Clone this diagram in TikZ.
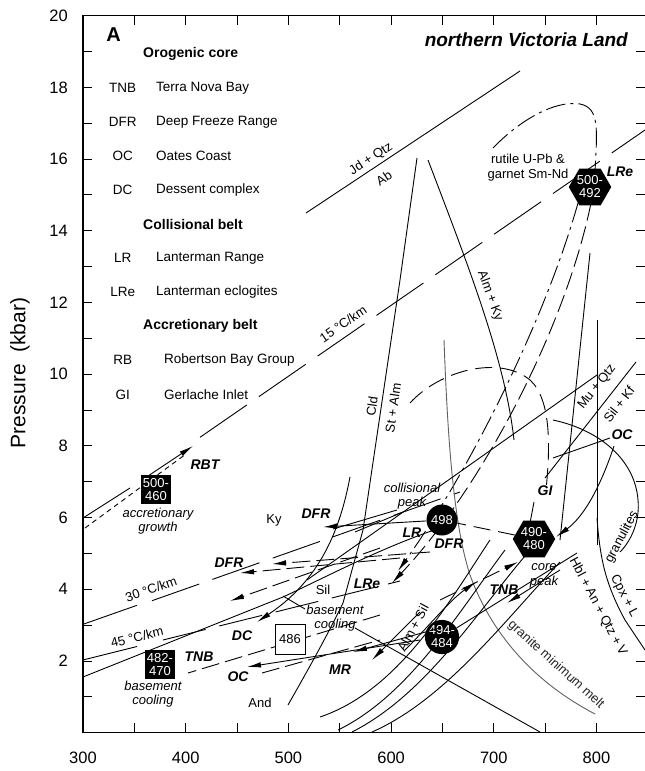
\documentclass[tikz,border=0pt]{standalone}
\usepackage{fontspec}
\setmainfont{Liberation Sans}
\usetikzlibrary{arrows.meta,shapes.geometric}
\begin{document}
\begin{tikzpicture}[x=1pt,y=-1pt,
  ln/.style={line width=0.9pt},
  ldash/.style={ln,dash pattern=on 18pt off 6pt},
  sdash/.style={ln,dash pattern=on 5pt off 4pt},
  adash/.style={ln,dash pattern=on 17pt off 8pt},
  dd/.style={ln,dash pattern=on 20pt off 5pt on 3pt off 5pt},
  geo/.style={ln,dash pattern=on 57pt off 14.5pt},
  arr/.style={-{Latex[length=14pt,width=5.5pt]}},
  lg/.style={font=\fontsize{13.5}{15}\selectfont,inner sep=0pt},
  hd/.style={font=\fontsize{14}{15}\selectfont\bfseries,inner sep=0pt,anchor=west},
  lb/.style={font=\fontsize{13}{15}\selectfont,inner sep=0pt},
  bi/.style={font=\fontsize{14}{15}\selectfont\bfseries\itshape,inner sep=0pt},
  itl/.style={font=\fontsize{13}{14.5}\selectfont\itshape,inner sep=0pt,align=center},
  bx/.style={fill=black,text=white,font=\fontsize{13}{13}\selectfont,inner sep=0pt,align=center,minimum width=30pt,minimum height=29pt},
  hexa/.style={regular polygon,regular polygon sides=6,fill=black,text=white,font=\fontsize{13}{13}\selectfont,inner sep=0pt,align=center},
  disc/.style={circle,fill=black,text=white,font=\fontsize{13}{13}\selectfont,inner sep=0pt,align=center},
]
\useasboundingbox (0,0) rectangle (645,771);
% frame and ticks
\draw[line width=1.1pt] (646,15.7) -- (83,15.7) -- (83,732.7) -- (646,732.7);
\foreach \k in {1,...,19}{
  \draw[line width=1pt] (83,{732.7-35.85*\k}) -- (92,{732.7-35.85*\k});
  \draw[line width=1pt] (636,{732.7-35.85*\k}) -- (645,{732.7-35.85*\k});}
\foreach \j in {1,...,10}{
  \draw[line width=1pt] ({83+51.35*\j},15.7) -- ({83+51.35*\j},25);
  \draw[line width=1pt] ({83+51.35*\j},732.7) -- ({83+51.35*\j},723);}
\foreach \p in {2,4,...,20}
  \node[anchor=east,font=\fontsize{16.5}{17}\selectfont,inner sep=0pt] (yl\p) at (68,{732.7-35.85*\p}) {\p};
\foreach \t in {300,400,...,800}
  \node[font=\fontsize{16.5}{17}\selectfont,inner sep=0pt] (xl\t) at ({83+1.027*(\t-300)},758) {\t};
\node[rotate=90,font=\fontsize{21}{21}\selectfont,inner sep=0pt] (ylab) at (20,373) {Pressure\ \ (kbar)};
% legend
\node[font=\fontsize{20}{20}\selectfont\bfseries,inner sep=0pt] (A) at (113.5,35) {A};
\node[hd] (h1) at (143,54) {Orogenic core};
\node[lg] (a1) at (122.7,88) {TNB}; \node[lg,anchor=west] (b1) at (156,88) {Terra Nova Bay};
\node[lg] (a2) at (122.7,122) {DFR}; \node[lg,anchor=west] (b2) at (156,122) {Deep Freeze Range};
\node[lg] (a3) at (122.7,156) {OC}; \node[lg,anchor=west] (b3) at (156,156) {Oates Coast};
\node[lg] (a4) at (122.7,190) {DC}; \node[lg,anchor=west] (b4) at (156,190) {Dessent complex};
\node[hd] (h2) at (143,224) {Collisional belt};
\node[lg] (a5) at (122.7,258) {LR}; \node[lg,anchor=west] (b5) at (156,258) {Lanterman Range};
\node[lg] (a6) at (122.7,292) {LRe}; \node[lg,anchor=west] (b6) at (156,292) {Lanterman eclogites};
\node[hd] (h3) at (143,326) {Accretionary belt};
\node[lg] (a7) at (122.7,360) {RB}; \node[lg,anchor=west] (b7) at (164,360) {Robertson Bay Group};
\node[lg] (a8) at (122.7,394.5) {GI}; \node[lg,anchor=west] (b8) at (164,394.5) {Gerlache Inlet};
\node[anchor=east,font=\fontsize{19}{19}\selectfont\bfseries\itshape,inner sep=0pt] (title) at (628,40) {northern Victoria Land};
% Jd + Qtz = Ab
\draw[ln] (306,213) -- (520,71);
\node[lb,rotate=33.6] (jd) at (371,159) {Jd + Qtz};
\node[lb,rotate=33.6] (ab) at (384,178) {Ab};
% 15 C/km geotherm and RBT
\draw[ln] (83,518) -- (130,488);
\draw[ln,dash pattern=on 5pt off 4pt] (85,528) -- (186,454);
\node[bx] (b500) at (156,489.5) {500-\\460};
\draw[ln,arr] (148,476) -- (193,446);
\draw[geo] (200,437.3) -- (645,130);
\node[lb,rotate=34.6] (g15) at (343,324) {15 \textdegree C/km};
\node[bi] (rbt) at (205,465) {RBT};
\node[itl] (accr) at (158,521) {accretionary\\growth};
% 30 C/km
\draw[ln] (83,624.3) -- (137,605.3);
\draw[ln,dash pattern=on 50pt off 14pt] (152,600.7) -- (460,492);
\node[lb,rotate=19.5] (g30) at (151,589) {30 \textdegree C/km};
% 45 C/km
\draw[ln] (83,660) -- (137,646.5);
\draw[ln,dash pattern=on 44pt off 14pt] (163,640) -- (400,581);
\node[lb,rotate=14] (g45) at (137,637) {45 \textdegree C/km};
% basement cooling solid line
\draw[ln] (83,677) -- (283,597) .. controls (320,580) and (380,548) .. (440,528);
% Cld = St + Alm
\draw[ln] (417,158) -- (400,280) -- (363,530) -- (352,570) -- (343,603);
\node[lb,rotate=81.7] (cld) at (372,406) {Cld};
\node[lb,rotate=81.7] (stalm) at (393,408) {St + Alm};
% Alm + Ky
\draw[ln] (428,160) .. controls (470,270) and (505,360) .. (514,440);
\node[lb,rotate=-70] (almky) at (490,296) {Alm + Ky};
% rutile loop
\draw[dd] (493,148) .. controls (520,120) and (555,100) .. (580,104) .. controls (600,108) and (597,130) .. (595,172);
\node[lb,align=center] (rut) at (528,168) {rutile U-Pb \&\\garnet Sm-Nd};
\node[hexa,minimum size=35pt] (hLRe) at (590,187) {500-\\492};
\node[bi] (lre1) at (620,172) {LRe};
\draw[dd,arr] (578,203) .. controls (545,320) and (470,470) .. (398,571);
\draw[ldash,arr] (591,203) .. controls (565,330) and (480,490) .. (392,583);
% collisional peak envelope
\draw[adash] (410,403) .. controls (440,370) and (500,355) .. (530,380) .. controls (552,400) and (550,450) .. (546,490);
% granite minimum melt
\draw[ln,gray!75!black] (444,340) .. controls (447,420) and (452,520) .. (470,575) .. controls (490,630) and (530,680) .. (595,714);
\node[lb,rotate=-42,text=black!85] (gmm) at (556,665) {granite minimum melt};
% right side lines
\draw[ln] (597,320) -- (597,545);
\draw[ln] (590,253) -- (560,540);
\draw[ln] (597,375) -- (307,580);
\draw[ln] (636,362) -- (545,478);
\node[lb,rotate=52] (muq) at (597,387) {Mu + Qtz};
\node[lb,rotate=52] (silk) at (619,404) {Sil + Kf};
\draw[ln] (553,420) .. controls (600,430) and (635,460) .. (638,500) .. controls (640,520) and (632,540) .. (620,552);
\node[lb,rotate=62] (gran) at (622,537) {granulites};
\draw[ln] (597,518) .. controls (600,560) and (606,585) .. (625,620) -- (645,650);
\node[lb,rotate=-62] (hbl) at (598,607) {Hbl + An + Qtz + V};
\node[lb,rotate=-62] (cpx) at (624,596) {Cpx + L};
\node[bi] (oc2) at (622,435) {OC};
\draw[ln] (610,438) -- (553,458);
\draw[ln,arr] (614,446) .. controls (602,482) and (586,515) .. (556,537);
% lower curves
\draw[ln] (320,717) .. controls (400,690) and (450,600) .. (490,540);
\draw[ln] (338,730) .. controls (410,695) and (460,610) .. (505,550);
\draw[ln] (352,732) .. controls (425,695) and (475,615) .. (525,556);
\draw[ln] (372,732) .. controls (445,700) and (505,620) .. (560,562);
\draw[ln] (355,628) -- (540,732);
\draw[ln] (288,705) .. controls (305,675) and (325,640) .. (343,603);
\node[lb,rotate=62] (almsil) at (413,628) {Alm + Sil};
% peak symbols
\node[disc,minimum size=31pt] (c498) at (442,520) {498};
\node[hexa,minimum size=36pt] (h490) at (534,539) {490-\\480};
\node[disc,minimum size=30pt] (c494) at (442,637) {494-\\484};
\draw[ln] (c494) -- (577,553);
\draw[ln,arr] (560,570) -- (507,603);
\draw[ln,arr] (405,650) .. controls (430,625) and (450,600) .. (476,582);
\draw[ldash,arr] (440,600) -- (518,562);
\draw[ln] (534,502) -- (530,523);
% DFR paths
\draw[adash] (h490) -- (c498);
\draw[ln,arr] (c498) -- (323,527);
\draw[ldash,arr] (430,552) -- (272,564);
\draw[ldash,arr] (400,558) -- (240,573);
\draw[ldash,arr] (380,548) -- (230,601);
\draw[ln] (397,510) -- (333,529);
\draw[ln] (403,512) -- (355,532);
% DC
\draw[ln,arr] (350,477) .. controls (340,530) and (320,580) .. (257,622);
% TNB left
\draw[ldash] (380,615) -- (188,673);
% OC left
\draw[ln,arr] (420,640) -- (247,667);
\draw[ldash] (262,673) -- (380,640);
% MR
\draw[ln,arr] (440,628) -- (353,652);
\draw[ln,arr] (420,612) -- (372,660);
% basement cooling boxes
\node[bx] (b482) at (160,664.5) {482-\\470};
\node[draw,fill=white,font=\fontsize{13}{13}\selectfont,inner sep=0pt,minimum width=30pt,minimum height=30pt,line width=0.9pt] (b486) at (290,639) {486};
\draw[ln] (283,596) -- (305,609);
% labels
\node[itl] (bc1) at (153,694) {basement\\cooling};
\node[itl] (bc2) at (335,618) {basement\\cooling};
\node[itl] (colp) at (412,496) {collisional\\peak};
\node[itl] (corep) at (544,576) {core\\peak};
\node[lb] (ky) at (274,520) {Ky};
\node[lb] (sil) at (323,590) {Sil};
\node[lb] (and) at (260,703) {And};
\node[bi] (dfr1) at (316,514) {DFR};
\node[bi] (dfr2) at (229,563) {DFR};
\node[bi] (dc) at (242,636) {DC};
\node[bi] (tnb1) at (199,657) {TNB};
\node[bi] (oc1) at (238,677) {OC};
\node[bi] (mr) at (340,670) {MR};
\node[bi] (lre2) at (367,584) {LRe};
\node[bi] (lr) at (412,533) {LR};
\node[bi] (dfr3) at (449,544) {DFR};
\node[bi] (tnb2) at (504,590) {TNB};
\node[bi] (gi) at (545,491) {GI};
\end{tikzpicture}
\end{document}
